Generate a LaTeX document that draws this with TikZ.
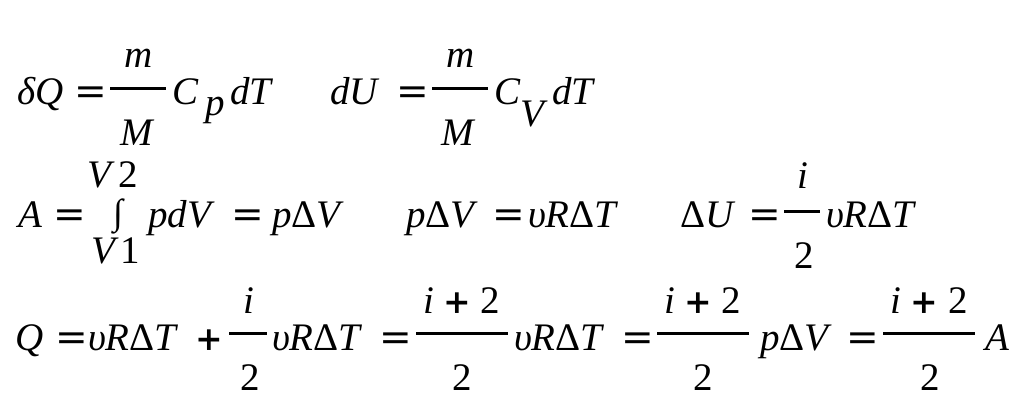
\documentclass[tikz,border=0pt]{standalone}
\usepackage{fontspec}
\setmainfont{Liberation Serif}
\newfontfamily\eqfont{DejaVu Serif}
\newcommand{\fsz}{\fontsize{39}{39}\selectfont}
\newcommand{\pls}{{\fontsize{33}{33}\selectfont\eqfont\bfseries\upshape +}}
\tikzset{
  it/.style={anchor=base west, inner sep=0pt, outer sep=0pt, font=\fsz\itshape},
  up/.style={anchor=base west, inner sep=0pt, outer sep=0pt, font=\fsz},
  eqs/.style={anchor=base west, inner sep=0pt, outer sep=0pt, font=\fsz\eqfont, xshift=-4pt},
  fbar/.style={line width=3pt, line cap=butt},
}
\begin{document}
\begin{tikzpicture}[x=1pt,y=-1pt]
\useasboundingbox (0,0) rectangle (1024,408);
% ---- row 1
\node[it] (r1a) at (17,104) {δQ};
\node[eqs] (r1b) at (78,104) {=};
\draw[fbar] (110,88) -- (166,88);
\node[it] (r1m) at (124,67) {m};
\node[it] (r1M) at (120,145) {M};
\node[it] (r1c) at (172,104) {C};
\node[it] (r1p) at (205,115) {p};
\node[it] (r1d) at (230,104) {dT};
\node[it] (r1e) at (330,104) {dU};
\node[eqs] (r1f) at (400,104) {=};
\draw[fbar] (432,88) -- (488,88);
\node[it] (r1m2) at (446,67) {m};
\node[it] (r1M2) at (441,145) {M};
\node[it] (r1c2) at (494,104) {C};
\node[it] (r1v) at (520,126) {V};
\node[it] (r1d2) at (552,104) {dT};
% ---- row 2
\node[it] (r2a) at (18,227) {A};
\node[eqs] (r2b) at (57,227) {=};
\node[it] (r2v2) at (87,187) {V};
\node[up] (r2n2) at (118,187) {2};
\node[up, font=\fontsize{36}{36}\selectfont] (r2int) at (113,224) {∫};
\node[it] (r2v1) at (91,263) {V};
\node[up] (r2n1) at (120,263) {1};
\node[it] (r2c) at (148,227) {pdV};
\node[eqs] (r2d) at (235,227) {=};
\node[it] (r2e) at (272,227) {p\textup{Δ}V};
\node[it] (r2f) at (406,227) {p\textup{Δ}V};
\node[eqs] (r2g) at (496,227) {=};
\node[it] (r2h) at (528,227) {υR\textup{Δ}T};
\node[it] (r2i) at (680,227) {\textup{Δ}U};
\node[eqs] (r2j) at (752,227) {=};
\draw[fbar] (784,211) -- (820,211);
\node[it] (r2num) at (797,188) {i};
\node[up] (r2den) at (794,268) {2};
\node[it] (r2k) at (826,227) {υR\textup{Δ}T};
% ---- row 3
\node[it] (r3a) at (15,350) {Q};
\node[eqs] (r3b) at (59,350) {=};
\node[it] (r3c) at (88,350) {υR\textup{Δ}T};
\node[up] (r3d) at (195,350) {\pls};
\draw[fbar] (229,333) -- (267,333);
\node[it] (r3n1) at (243,313) {i};
\node[up] (r3d1) at (240,390) {2};
\node[it] (r3e) at (272,350) {υR\textup{Δ}T};
\node[eqs] (r3f) at (383,350) {=};
\draw[fbar] (416,333) -- (508,333);
\node[it] (r3n2) at (423,313) {i \pls\ \textup{2}};
\node[up] (r3d2) at (452,390) {2};
\node[it] (r3g) at (514,350) {υR\textup{Δ}T};
\node[eqs] (r3h) at (625,350) {=};
\draw[fbar] (657,333) -- (749,333);
\node[it] (r3n3) at (664,313) {i \pls\ \textup{2}};
\node[up] (r3d3) at (693,390) {2};
\node[it] (r3i) at (760,350) {p\textup{Δ}V};
\node[eqs] (r3j) at (850,350) {=};
\draw[fbar] (883,333) -- (975,333);
\node[it] (r3n4) at (890,313) {i \pls\ \textup{2}};
\node[up] (r3d4) at (920,390) {2};
\node[it] (r3k) at (985,350) {A};
\end{tikzpicture}
\end{document}
